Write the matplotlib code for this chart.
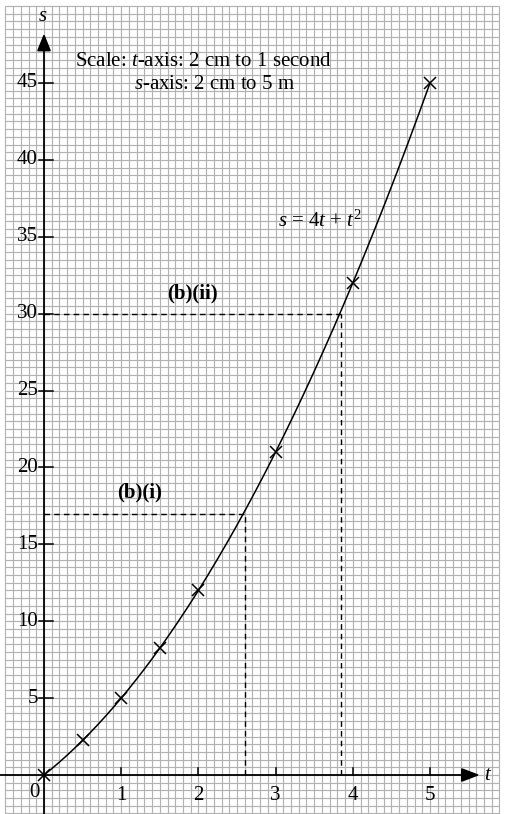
import numpy as np
import matplotlib.pyplot as plt

plt.rcParams['font.family'] = ['Liberation Serif', 'DejaVu Serif']
plt.rcParams['mathtext.fontset'] = 'custom'
plt.rcParams['mathtext.rm'] = 'Liberation Serif'
plt.rcParams['mathtext.it'] = 'Liberation Serif:italic'
plt.rcParams['mathtext.bf'] = 'Liberation Serif:bold'

# ===== data =====
T_POINTS = [0, 0.5, 1, 1.5, 2, 3, 4, 5]
S_POINTS = [0, 2.25, 5, 8.25, 12, 21, 32, 45]
X_TICKS = [1, 2, 3, 4, 5]
Y_TICKS = [5, 10, 15, 20, 25, 30, 35, 40, 45]
READ_S = [17, 30]          # (b)(i), (b)(ii)
READ_T = [2.6, 3.85]
READ_LABELS = ["(b)(i)", "(b)(ii)"]

# ===== layout =====
W, H, DPI = 505, 814, 100
PX_PER_T = 77.2
PX_PER_S = 15.378
X0_PX, Y0_PX = 44, 775    # pixel position of origin

fig = plt.figure(figsize=(W / DPI, H / DPI), dpi=DPI)
ax = fig.add_axes([0, 0, 1, 1])
ax.set_xlim(-X0_PX / PX_PER_T, (W - X0_PX) / PX_PER_T)
ax.set_ylim(-(H - Y0_PX) / PX_PER_S, Y0_PX / PX_PER_S)
ax.axis("off")

# ----- graph paper -----
gx = np.arange(-5, 60) / 10.0
gy = np.arange(-6, 101) / 2.0
grid_kw = dict(color="#b2b2b2", lw=0.85, zorder=0)
ax.vlines(gx, gy[0] - 1, gy[-1], **grid_kw)
ax.hlines(gy, gx[0], gx[-1], **grid_kw)

# ----- axes with arrows -----
ax.plot([-0.6, 5.45], [0, 0], color="black", lw=1.3, zorder=2)
ax.plot([0, 0], [-3, 47.3], color="black", lw=1.3, zorder=2)
ax.fill([5.41, 5.62, 5.41], [-0.4, 0, 0.4], color="black", zorder=3)
ax.fill([-0.08, 0, 0.08], [47.1, 48.1, 47.1], color="black", zorder=3)
ax.text(5.7, 0, "t", style="italic", fontsize=15, va="center", ha="left")
ax.text(-0.02, 49.3, "s", style="italic", fontsize=15, va="center", ha="center")

for t in X_TICKS:
    ax.plot([t, t], [0, 0.45], color="black", lw=1.1, zorder=2)
    ax.text(t, -1.35, str(t), fontsize=15, ha="center", va="center")
ax.text(-0.12, -1.15, "0", fontsize=15, ha="center", va="center")
for s in Y_TICKS:
    ax.plot([-0.07, 0.12], [s, s], color="black", lw=1.1, zorder=2)
    ax.text(-0.08, s, str(s), fontsize=15, ha="right", va="center")

# ----- curve and plotted points -----
t_curve = np.linspace(0, 5, 200)
ax.plot(t_curve, 4 * t_curve + t_curve ** 2, color="black", lw=1.1, zorder=4)
ax.plot(T_POINTS, S_POINTS, "x", color="black", ms=9, mew=1.1, zorder=5)

# ----- read-off lines -----
for s, t in zip(READ_S, READ_T):
    ax.plot([0, t], [s, s], "--", color="black", lw=1.0, dashes=(4, 3), zorder=3)
    ax.plot([t, t], [0, s], "--", color="black", lw=1.0, dashes=(4, 3), zorder=3)
ax.text(1.24, 18.4, READ_LABELS[0], fontsize=15, weight="bold",
        ha="center", va="center")
ax.text(1.92, 31.3, READ_LABELS[1], fontsize=15, weight="bold",
        ha="center", va="center")

# ----- annotations -----
ax.text(0.40, 46.4, r"Scale: $t$-axis: 2 cm to 1 second", fontsize=15,
        ha="left", va="center")
ax.text(1.17, 44.9, r"$s$-axis: 2 cm to 5 m", fontsize=15, ha="left", va="center")
ax.text(3.03, 36.0, r"$s$ = 4$t$ + $t^2$", fontsize=15, ha="left", va="center")

fig.savefig("out.png", dpi=DPI, facecolor="white")
